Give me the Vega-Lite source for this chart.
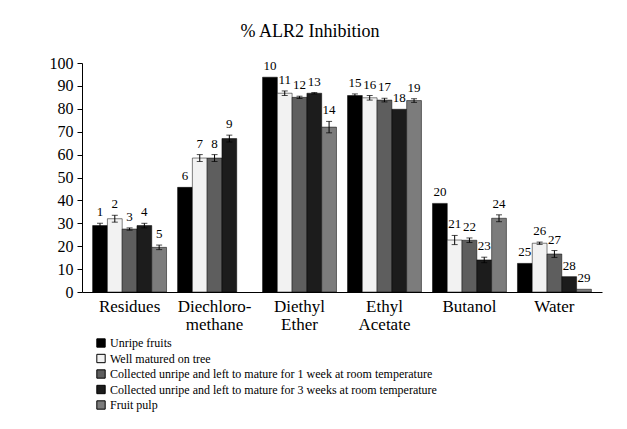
{
  "$schema": "https://vega.github.io/schema/vega-lite/v6.json",
  "width": 520,
  "height": 229,
  "autosize": {"type": "none"},
  "padding": {"left": 82, "top": 63, "right": 25, "bottom": 137},
  "background": "white",
  "title": {
    "text": "% ALR2 Inhibition",
    "font": "Liberation Serif",
    "fontSize": 18,
    "fontWeight": "normal",
    "color": "black",
    "anchor": "middle",
    "dx": -32,
    "offset": 14
  },
  "config": {
    "view": {"stroke": null},
    "font": "Liberation Serif"
  },
  "data": {
    "values": [
      {"category": "Residues", "series": "Unripe fruits", "value": 29, "err": 1, "id": "1"},
      {"category": "Residues", "series": "Well matured on tree", "value": 32, "err": 1.5, "id": "2"},
      {"category": "Residues", "series": "Collected unripe and left to mature for 1 week at room temperature", "value": 27.5, "err": 0.5, "id": "3"},
      {"category": "Residues", "series": "Collected unripe and left to mature for 3 weeks at room temperature", "value": 29, "err": 1, "id": "4"},
      {"category": "Residues", "series": "Fruit pulp", "value": 19.5, "err": 1, "id": "5"},
      {"category": "Diechloromethane", "series": "Unripe fruits", "value": 45.7, "err": 0, "id": "6"},
      {"category": "Diechloromethane", "series": "Well matured on tree", "value": 58.5, "err": 1.5, "id": "7"},
      {"category": "Diechloromethane", "series": "Collected unripe and left to mature for 1 week at room temperature", "value": 58.5, "err": 1.5, "id": "8"},
      {"category": "Diechloromethane", "series": "Collected unripe and left to mature for 3 weeks at room temperature", "value": 67, "err": 1.5, "id": "9"},
      {"category": "Diethyl Ether", "series": "Unripe fruits", "value": 93.8, "err": 0, "id": "10"},
      {"category": "Diethyl Ether", "series": "Well matured on tree", "value": 86.8, "err": 1, "id": "11"},
      {"category": "Diethyl Ether", "series": "Collected unripe and left to mature for 1 week at room temperature", "value": 85, "err": 0.5, "id": "12"},
      {"category": "Diethyl Ether", "series": "Collected unripe and left to mature for 3 weeks at room temperature", "value": 86.8, "err": 0.3, "id": "13"},
      {"category": "Diethyl Ether", "series": "Fruit pulp", "value": 72, "err": 2.5, "id": "14"},
      {"category": "Ethyl Acetate", "series": "Unripe fruits", "value": 85.8, "err": 0.7, "id": "15"},
      {"category": "Ethyl Acetate", "series": "Well matured on tree", "value": 84.8, "err": 1, "id": "16"},
      {"category": "Ethyl Acetate", "series": "Collected unripe and left to mature for 1 week at room temperature", "value": 83.8, "err": 0.8, "id": "17"},
      {"category": "Ethyl Acetate", "series": "Collected unripe and left to mature for 3 weeks at room temperature", "value": 79.8, "err": 0, "id": "18"},
      {"category": "Ethyl Acetate", "series": "Fruit pulp", "value": 83.6, "err": 0.8, "id": "19"},
      {"category": "Butanol", "series": "Unripe fruits", "value": 38.7, "err": 0, "id": "20"},
      {"category": "Butanol", "series": "Well matured on tree", "value": 22.7, "err": 2, "id": "21"},
      {"category": "Butanol", "series": "Collected unripe and left to mature for 1 week at room temperature", "value": 22.6, "err": 1, "id": "22"},
      {"category": "Butanol", "series": "Collected unripe and left to mature for 3 weeks at room temperature", "value": 14, "err": 1.2, "id": "23"},
      {"category": "Butanol", "series": "Fruit pulp", "value": 32.2, "err": 1.5, "id": "24"},
      {"category": "Water", "series": "Unripe fruits", "value": 12.5, "err": 0, "id": "25"},
      {"category": "Water", "series": "Well matured on tree", "value": 21.3, "err": 0.5, "id": "26"},
      {"category": "Water", "series": "Collected unripe and left to mature for 1 week at room temperature", "value": 16.6, "err": 1.5, "id": "27"},
      {"category": "Water", "series": "Collected unripe and left to mature for 3 weeks at room temperature", "value": 6.7, "err": 0, "id": "28"},
      {"category": "Water", "series": "Fruit pulp", "value": 1.2, "err": 0, "id": "29"}
    ]
  },
  "transform": [
    {"calculate": "datum.value - datum.err", "as": "lo"},
    {"calculate": "datum.value + datum.err", "as": "hi"}
  ],
  "encoding": {
    "x": {
      "field": "category",
      "type": "nominal",
      "sort": ["Residues", "Diechloromethane", "Diethyl Ether", "Ethyl Acetate", "Butanol", "Water"],
      "scale": {"paddingInner": 0.13, "paddingOuter": 0.125},
      "axis": {
        "title": null,
        "labelAngle": 0,
        "labelFont": "Liberation Serif",
        "labelFontSize": 17,
        "labelColor": "black",
        "labelPadding": 6,
        "labelLineHeight": 18,
        "ticks": false,
        "domainColor": "black",
        "domainWidth": 1,
        "labelExpr": "datum.value == 'Diechloromethane' ? ['Diechloro-', 'methane'] : datum.value == 'Diethyl Ether' ? ['Diethyl', 'Ether'] : datum.value == 'Ethyl Acetate' ? ['Ethyl', 'Acetate'] : datum.value"
      }
    },
    "xOffset": {
      "field": "series",
      "type": "nominal",
      "sort": ["Unripe fruits", "Well matured on tree", "Collected unripe and left to mature for 1 week at room temperature", "Collected unripe and left to mature for 3 weeks at room temperature", "Fruit pulp"],
      "scale": {"paddingInner": 0, "paddingOuter": 0}
    },
    "y": {
      "field": "value",
      "type": "quantitative",
      "scale": {"domain": [0, 100], "nice": false},
      "axis": {
        "title": null,
        "values": [0, 10, 20, 30, 40, 50, 60, 70, 80, 90, 100],
        "labelOverlap": false,
        "grid": false,
        "labelFont": "Liberation Serif",
        "labelFontSize": 16,
        "labelColor": "black",
        "labelPadding": 4,
        "tickSize": 5,
        "tickColor": "black",
        "domainColor": "black"
      }
    }
  },
  "layer": [
    {
      "mark": {"type": "bar", "stroke": "black", "strokeWidth": 0.5},
      "encoding": {
        "color": {
          "field": "series",
          "type": "nominal",
          "scale": {
            "domain": ["Unripe fruits", "Well matured on tree", "Collected unripe and left to mature for 1 week at room temperature", "Collected unripe and left to mature for 3 weeks at room temperature", "Fruit pulp"],
            "range": ["#000000", "#f2f2f2", "#5e5e5e", "#1c1c1c", "#7c7c7c"]
          },
          "legend": {
            "title": null,
            "orient": "none",
            "legendX": 13,
            "legendY": 274,
            "direction": "vertical",
            "symbolType": "square",
            "symbolSize": 70,
            "symbolStrokeColor": "black",
            "symbolStrokeWidth": 1,
            "labelFont": "Liberation Serif",
            "labelFontSize": 12,
            "labelColor": "black",
            "labelLimit": 500,
            "labelOffset": 3,
            "rowPadding": 1.5
          }
        }
      }
    },
    {
      "transform": [{"filter": "datum.err > 0"}],
      "mark": {"type": "rule", "color": "black", "strokeWidth": 1},
      "encoding": {
        "y": {"field": "lo", "type": "quantitative"},
        "y2": {"field": "hi"}
      }
    },
    {
      "transform": [{"filter": "datum.err > 0"}],
      "mark": {"type": "tick", "color": "black", "size": 6, "thickness": 1, "orient": "horizontal"},
      "encoding": {
        "y": {"field": "hi", "type": "quantitative"}
      }
    },
    {
      "transform": [{"filter": "datum.err > 0"}],
      "mark": {"type": "tick", "color": "black", "size": 6, "thickness": 1, "orient": "horizontal"},
      "encoding": {
        "y": {"field": "lo", "type": "quantitative"}
      }
    },
    {
      "mark": {"type": "text", "baseline": "bottom", "dy": -4, "font": "Liberation Serif", "fontSize": 13, "color": "black"},
      "encoding": {
        "y": {"field": "hi", "type": "quantitative"},
        "text": {"field": "id"}
      }
    }
  ]
}
